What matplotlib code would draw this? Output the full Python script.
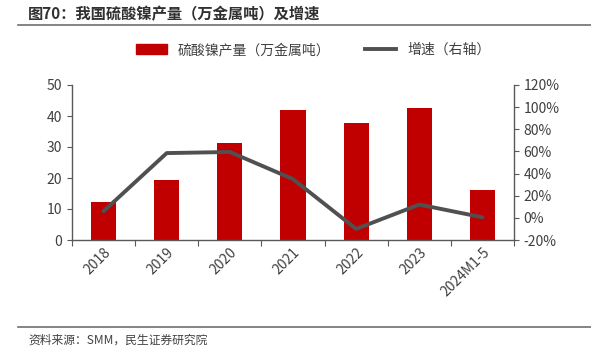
import numpy as np
import matplotlib.pyplot as plt
from matplotlib.lines import Line2D

plt.rcParams['font.family'] = ['Noto Sans CJK SC', 'DejaVu Sans']

# data
years = ['2018', '2019', '2020', '2021', '2022', '2023', '2024M1-5']
output = [12.3, 19.5, 31.3, 41.9, 37.7, 42.6, 16.1]
growth = [6, 58.5, 59.5, 35, -10, 12, 0.5]

red = '#C00000'
dark = '#505050'
txt = '#404040'
axc = '#595959'

fig = plt.figure(figsize=(5.91, 3.64), dpi=100)
ax = fig.add_axes([72/591, 1-240/364, (514-72)/591, (240-85)/364])
ax2 = ax.twinx()

x = np.arange(len(years))
ax.bar(x, output, width=0.4, color=red, zorder=2, label='硫酸镍产量（万金属吨）')
ax2.plot(x, growth, color=dark, lw=2.8, solid_capstyle='round', label='增速（右轴）')

ax.set_xlim(-0.5, len(years) - 0.5)
ax.set_ylim(0, 50)
ax.set_yticks(range(0, 51, 10))
ax2.set_ylim(-20, 120)
ax2.set_yticks(range(-20, 121, 20))
ax2.set_yticklabels([f'{v}%' for v in range(-20, 121, 20)])

ax.set_xticks(np.arange(-0.5, len(years)), labels=[])
ax.set_xticks(x, labels=years, minor=True)
ax.tick_params(axis='x', which='minor', length=0, pad=4)
ax.tick_params(axis='x', which='major', length=4, color=axc)
for lab in ax.get_xticklabels(minor=True):
    lab.set_rotation(45)
    lab.set_ha('right')
    lab.set_rotation_mode('anchor')

for a in (ax, ax2):
    a.tick_params(axis='both', labelsize=10, labelcolor=txt, color=axc)
    for s in a.spines.values():
        s.set_visible(False)
ax.spines['left'].set_visible(True)
ax.spines['bottom'].set_visible(True)
ax2.spines['right'].set_visible(True)
for s in (ax.spines['left'], ax.spines['bottom'], ax2.spines['right']):
    s.set_color(axc)
    s.set_linewidth(1)
ax.tick_params(axis='x', which='minor', labelsize=10, labelcolor=txt)

# legend
handles = [plt.Rectangle((0, 0), 1, 1, color=red),
           Line2D([0], [0], color=dark, lw=2.8)]
fig.legend(handles, ['硫酸镍产量（万金属吨）', '增速（右轴）'], loc='center',
           bbox_to_anchor=(0.53, 1-50/364), ncol=2, frameon=False, fontsize=10,
           labelcolor=txt, handlelength=2.2, columnspacing=2.5)

# title and source
fig.text(28/591, 1-14/364, '图70：我国硫酸镍产量（万金属吨）及增速', fontsize=11,
         fontweight='bold', color='#303030', va='center')
fig.add_artist(Line2D([18/591, 1], [1-25/364, 1-25/364], color='#707070', lw=1.2))
fig.add_artist(Line2D([18/591, 1], [1-327/364, 1-327/364], color='#707070', lw=1.2))
fig.text(28/591, 1-340/364, '资料来源：SMM，民生证券研究院', fontsize=8.5,
         color=txt, va='center')

fig.savefig('out.png', dpi=100)
